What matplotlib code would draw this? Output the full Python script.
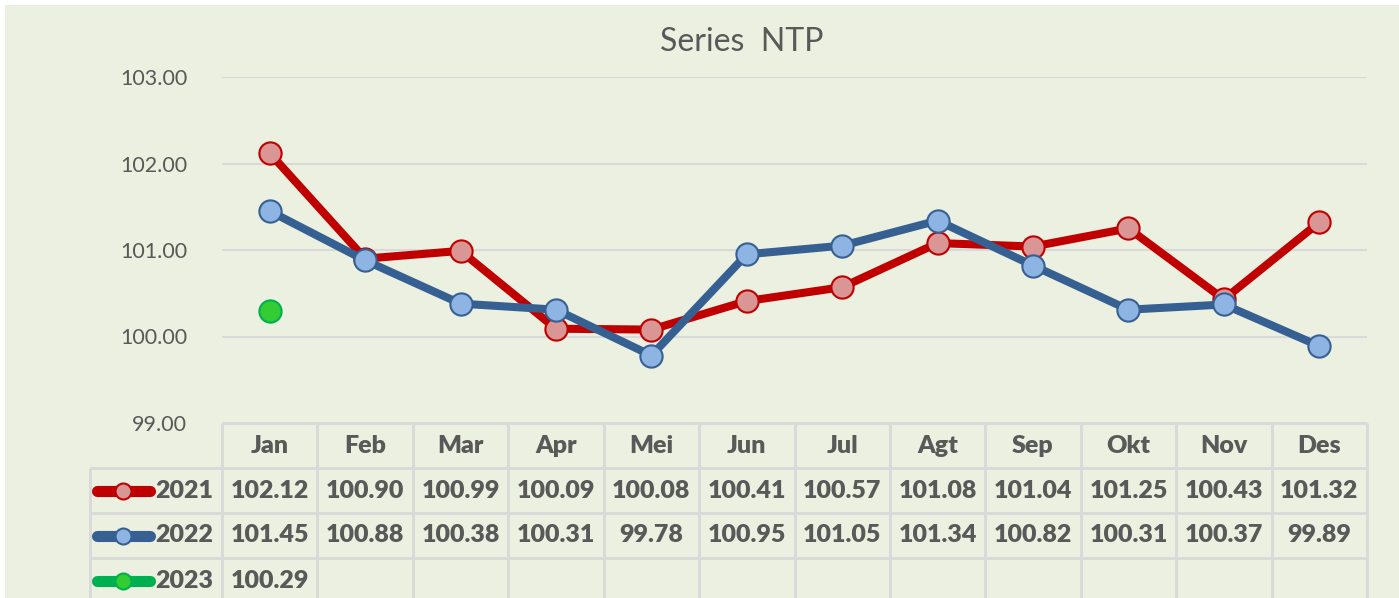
import matplotlib
matplotlib.use('Agg')
import matplotlib.pyplot as plt
from matplotlib.patches import Rectangle
from matplotlib.lines import Line2D

# data
bulan = ['Jan', 'Feb', 'Mar', 'Apr', 'Mei', 'Jun', 'Jul', 'Agt', 'Sep', 'Okt', 'Nov', 'Des']
ntp_2021 = [102.12, 100.90, 100.99, 100.09, 100.08, 100.41, 100.57, 101.08, 101.04, 101.25, 100.43, 101.32]
ntp_2022 = [101.45, 100.88, 100.38, 100.31, 99.78, 100.95, 101.05, 101.34, 100.82, 100.31, 100.37, 99.89]
ntp_2023 = [100.29]
tahun = ['2021', '2022', '2023']
y_ticks = [99, 100, 101, 102, 103]

plt.rcParams['font.family'] = ['Lato', 'DejaVu Sans']
abu = '#595959'
bg = '#EBF0E0'
garis = '#D9D9D9'

W, H = 1399, 598
fig = plt.figure(figsize=(W / 100, H / 100), dpi=100, facecolor='white')
fig.patches.append(Rectangle((5 / W, 0), 1, 1 - 5 / H, transform=fig.transFigure,
                             facecolor=bg, edgecolor='none', zorder=-10))

def kotak(x0, y0, x1, y1):
    # piksel (dari kiri-atas) -> koordinat figure
    return [x0 / W, 1 - y1 / H, (x1 - x0) / W, (y1 - y0) / H]

x0, x1 = 222, 1367
ax = fig.add_axes(kotak(x0, 77, x1, 423))
ax.set_facecolor('none')
xs = list(range(len(bulan)))
ax.plot(xs, ntp_2021, color='#C00000', lw=5.8, marker='o', ms=16,
        mfc='#D99694', mec='#C00000', mew=1.5, zorder=3)
ax.plot(xs, ntp_2022, color='#376092', lw=5.8, marker='o', ms=16,
        mfc='#8DB4E2', mec='#376092', mew=1.5, zorder=4)
ax.plot(xs[:len(ntp_2023)], ntp_2023, color='#00B050', lw=5.8, marker='o', ms=16,
        mfc='#33CC33', mec='#00B050', mew=1.5, zorder=5)
ax.set_xlim(-0.5, len(bulan) - 0.5)
ax.set_ylim(99, 103)
ax.set_yticks(y_ticks)
ax.set_yticklabels(['%.2f' % v for v in y_ticks])
ax.set_xticks([])
ax.tick_params(axis='y', length=0, pad=25, labelsize=15.5, labelcolor=abu)
for s in ax.spines.values():
    s.set_visible(False)
for v in y_ticks[1:]:
    ax.axhline(v, color=garis, lw=1.5, zorder=1)
fig.text(742 / W, 1 - 42 / H, 'Series  NTP', ha='center', va='center',
         fontsize=23, color=abu)

# tabel data di bawah grafik
tb = fig.add_axes(kotak(x0, 423, x1, 603))
tb.set_facecolor('none')
tb.set_xlim(-0.5, len(bulan) - 0.5)
tb.set_ylim(4, 0)
tb.axis('off')
lebar = (x1 - x0) / len(bulan)
def px(p):
    return (p - x0) / lebar - 0.5
x_leg = px(90)
kw = dict(color=garis, lw=2, clip_on=False, solid_capstyle='butt')
tb.plot([-0.5, len(bulan) - 0.5], [0, 0], **kw)
for r in range(1, 5):
    tb.plot([x_leg, len(bulan) - 0.5], [r, r], **kw)
tb.plot([x_leg, x_leg], [1, 4], **kw)
for i in range(len(bulan) + 1):
    tb.plot([i - 0.5, i - 0.5], [0, 4], **kw)

fs = 18
wt = 'heavy'
for i, b in enumerate(bulan):
    tb.text(i, 0.5, b, ha='center', va='center', fontsize=fs, fontweight=wt, color=abu)
gaya = [('#C00000', '#D99694', '#C00000'),
        ('#376092', '#8DB4E2', '#376092'),
        ('#00B050', '#33CC33', '#00B050')]
for r, (th, vals) in enumerate(zip(tahun, [ntp_2021, ntp_2022, ntp_2023])):
    yc = r + 1.5
    lc, fc, ec = gaya[r]
    tb.add_line(Line2D([px(97), px(150)], [yc, yc], color=lc, lw=8,
                       solid_capstyle='round', clip_on=False))
    tb.add_line(Line2D([px(123)], [yc], marker='o', ms=11.5, mfc=fc, mec=ec,
                       mew=1.5, clip_on=False))
    tb.text(px(155), yc, th, ha='left', va='center', fontsize=fs,
            fontweight=wt, color=abu)
    for i, v in enumerate(vals):
        tb.text(i, yc, '%.2f' % v, ha='center', va='center', fontsize=fs,
                fontweight=wt, color=abu)

fig.savefig('out.png', dpi=100, facecolor='white')
